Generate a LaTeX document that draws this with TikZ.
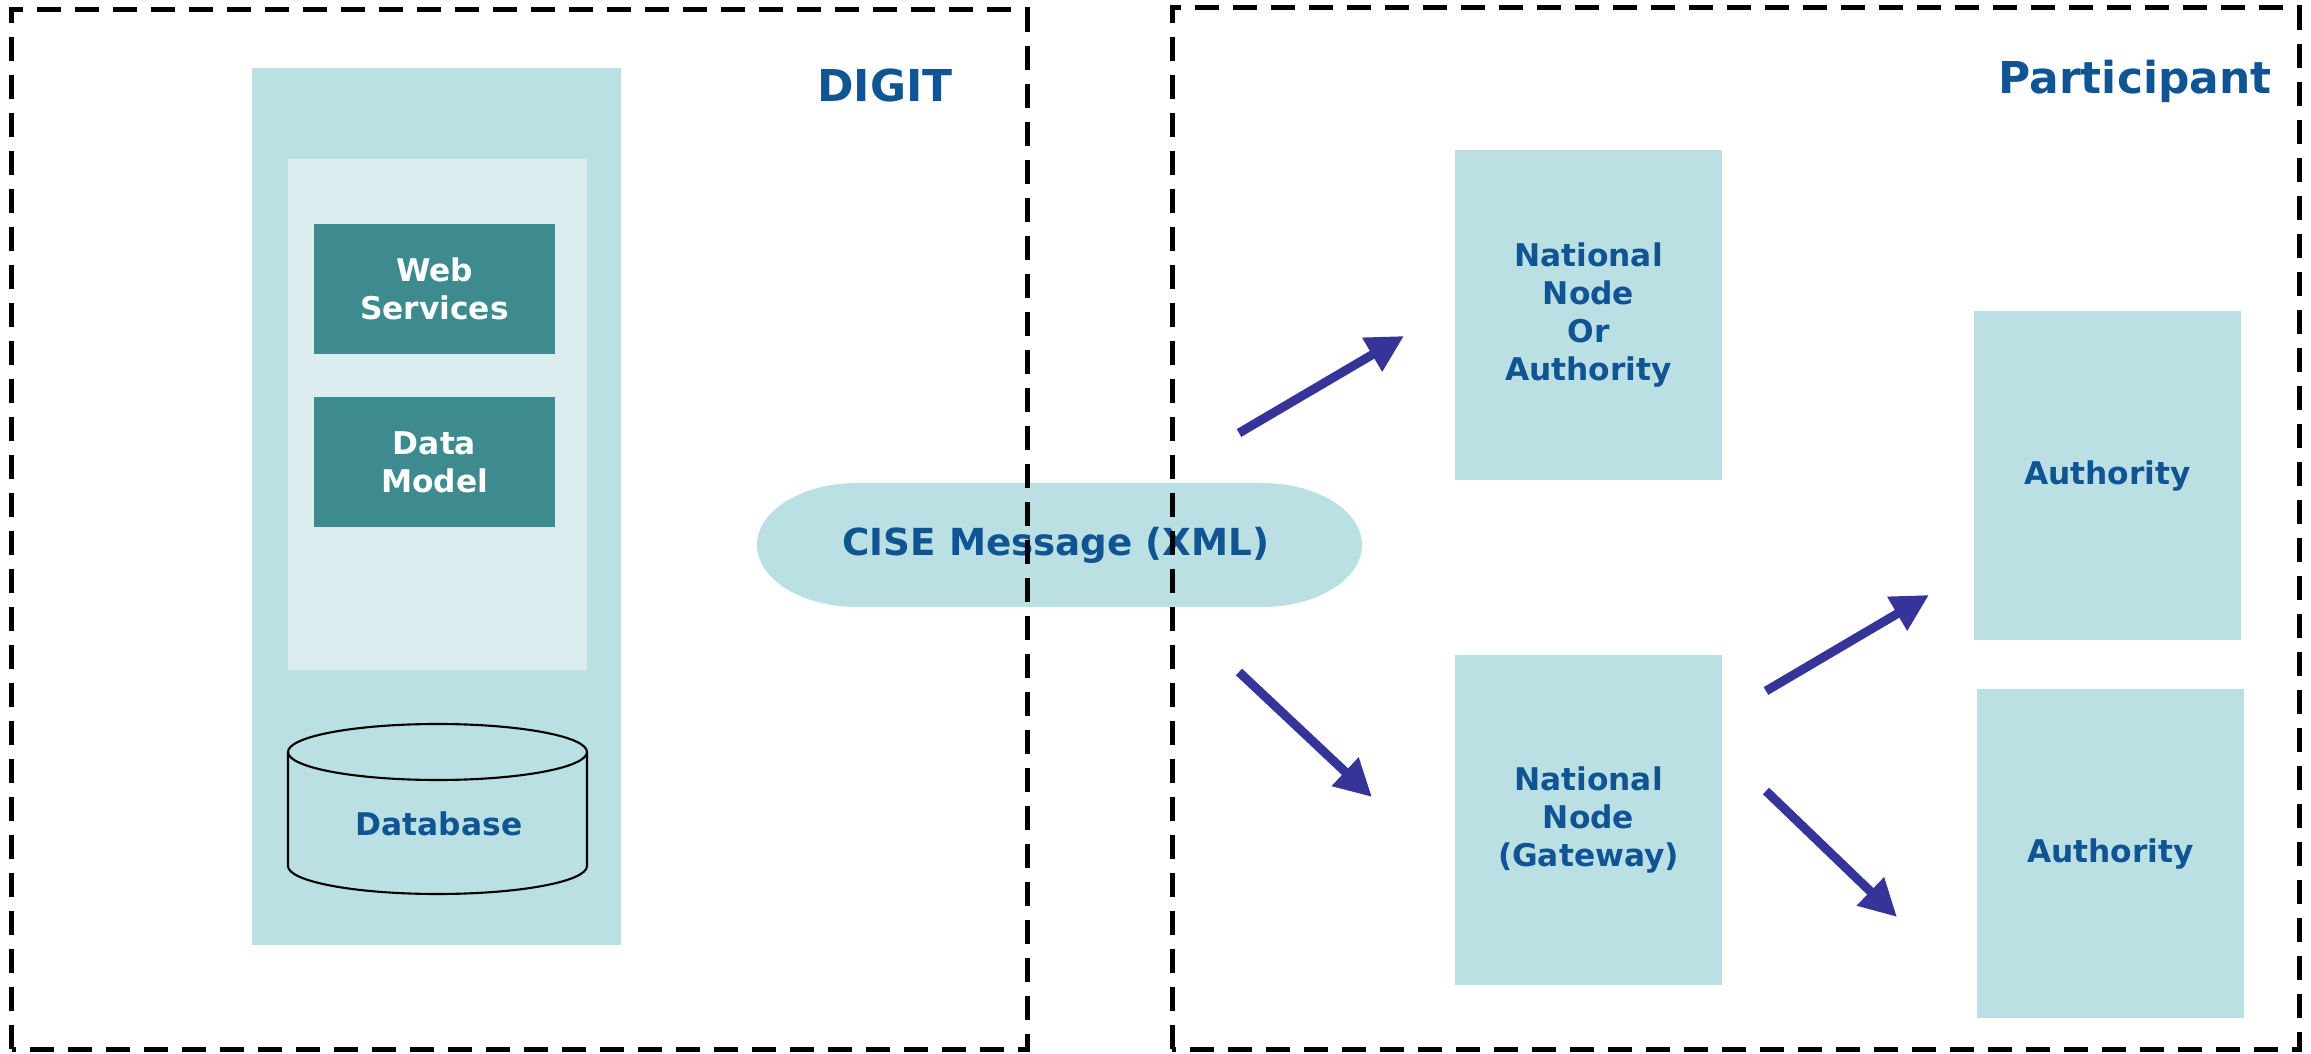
\documentclass[tikz,border=0pt]{standalone}
\usepackage{fontspec}
\setmainfont{DejaVu Sans}
\usetikzlibrary{calc,arrows.meta}
\definecolor{lightteal}{RGB}{186,224,227}
\definecolor{paleteal}{RGB}{219,237,239}
\definecolor{darkteal}{RGB}{61,139,143}
\definecolor{textblue}{RGB}{16,84,148}
\definecolor{arrowblue}{RGB}{54,52,153}
\tikzset{
  box/.style={fill=lightteal, text=textblue, inner sep=0pt, minimum width=2.67cm, minimum height=3.3cm, align=center, font=\bfseries\fontsize{8.9}{10.8}\selectfont},
  innerbox/.style={fill=darkteal, text=white, inner sep=0pt, minimum width=2.41cm, minimum height=1.3cm, align=center, font=\bfseries\fontsize{8.9}{10.8}\selectfont},
  flow/.style={draw=arrowblue, line width=0.09cm, -{Triangle[length=0.37cm,width=0.37cm]}},
  zone/.style={draw=black, line width=0.05cm, dash pattern=on 0.24cm off 0.14cm},
  title/.style={text=textblue, font=\bfseries\fontsize{12.5}{14}\selectfont}
}
\begin{document}
\begin{tikzpicture}
\useasboundingbox (0,0) rectangle (23.11,10.53);
\fill[lightteal] (2.52,1.08) rectangle (6.21,9.85);
\fill[paleteal] (2.88,3.83) rectangle (5.87,8.94);
\node[innerbox] (ws) at (4.345,7.64) {Web\\Services};
\node[innerbox] (dm) at (4.345,5.91) {Data\\Model};
\draw[black, line width=0.6pt] (2.88,3.01) -- (2.88,1.87) arc[start angle=180, end angle=360, x radius=1.495, y radius=0.28] -- (5.87,3.01);
\draw[black, line width=0.6pt] (4.375,3.01) ellipse[x radius=1.495, y radius=0.28];
\node[text=textblue, font=\bfseries\fontsize{8.9}{10.8}\selectfont] (db) at (4.39,2.29) {Database};
\fill[lightteal] (8.57,4.46) -- (12.62,4.46) arc[start angle=-90, end angle=90, x radius=1.0, y radius=0.62] -- (8.57,5.70) arc[start angle=90, end angle=270, x radius=1.0, y radius=0.62] -- cycle;
\node[text=textblue, font=\bfseries\fontsize{10.6}{12}\selectfont] (msg) at (10.56,5.08) {CISE Message (XML)};
\node[box] (natnode) at (15.885,7.38) {National\\Node\\Or\\Authority};
\node[box] (gateway) at (15.885,2.33) {National\\Node\\(Gateway)};
\node[box, minimum height=3.29cm] (auth1) at (21.075,5.775) {Authority};
\node[box, minimum height=3.29cm] (auth2) at (21.105,1.995) {Authority};
\coordinate (from1) at (12.39,6.20);
\coordinate (to1) at (14.04,7.17);
\coordinate (from2) at (12.39,3.81);
\coordinate (to2) at (13.72,2.56);
\coordinate (from3) at (17.66,3.62);
\coordinate (to3) at (19.29,4.58);
\coordinate (from4) at (17.66,2.62);
\coordinate (to4) at (18.97,1.36);
\draw[flow] (from1) -- (to1);
\draw[flow] (from2) -- (to2);
\draw[flow] (from3) -- (to3);
\draw[flow] (from4) -- (to4);
\draw[zone] (0.12,0.04) rectangle (10.27,10.43);
\draw[zone] (11.72,0.04) rectangle (22.99,10.45);
\node[title] (digit) at (8.85,9.67) {DIGIT};
\node[title] (participant) at (21.35,9.72) {Participant};
\end{tikzpicture}
\end{document}
